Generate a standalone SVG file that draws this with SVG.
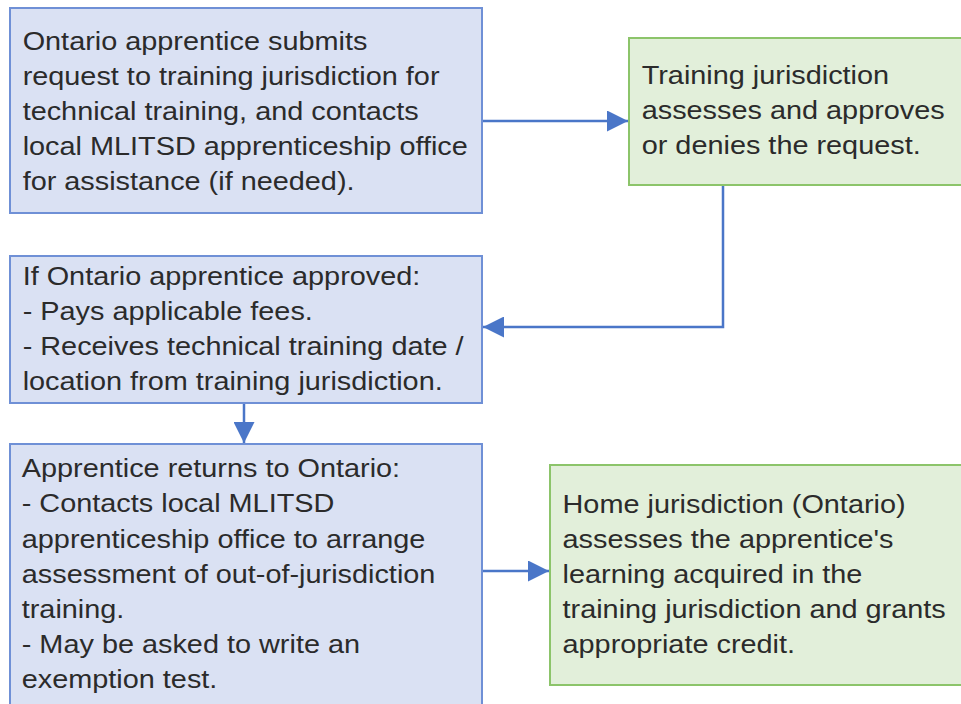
<svg xmlns="http://www.w3.org/2000/svg" width="961" height="704" viewBox="0 0 961 704">
<style>
.blue{fill:#dae1f3;stroke:#6f90d6;stroke-width:2}
.green{fill:#e2efda;stroke:#8cc46a;stroke-width:2}
.t{font-family:"Liberation Sans",Arial,sans-serif;font-size:26px;fill:#2b2b2b}
.c{fill:none;stroke:#4a76c8;stroke-width:2.5}
</style>
<defs>
<marker id="ah" viewBox="0 0 10 10" refX="10" refY="5" markerWidth="21" markerHeight="21" markerUnits="userSpaceOnUse" orient="auto">
<path d="M0,0 L10,5 L0,10 Z" fill="#4a76c8"/>
</marker>
</defs>
<rect width="961" height="704" fill="#ffffff"/>
<g id="connectors">
<path class="c" d="M482,121 H628" marker-end="url(#ah)"/>
<path class="c" d="M723,185 V327 H483" marker-end="url(#ah)"/>
<path class="c" d="M244,403 V443" marker-end="url(#ah)"/>
<path class="c" d="M482,571 H549" marker-end="url(#ah)"/>
</g>
<g id="node1">
<rect class="blue" x="10" y="8" width="472" height="205"/>
<g transform="scale(1.11 1)">
<text class="t" x="20.4" y="50">Ontario apprentice submits</text>
<text class="t" x="20.4" y="85">request to training jurisdiction for</text>
<text class="t" x="20.4" y="120">technical training, and contacts</text>
<text class="t" x="20.4" y="155">local MLITSD apprenticeship office</text>
<text class="t" x="20.4" y="190">for assistance (if needed).</text>
</g>
</g>
<g id="node2">
<rect class="green" x="629" y="38" width="340" height="147"/>
<g transform="scale(1.11 1)">
<text class="t" x="578.1" y="84">Training jurisdiction</text>
<text class="t" x="578.1" y="119">assesses and approves</text>
<text class="t" x="578.1" y="154">or denies the request.</text>
</g>
</g>
<g id="node3">
<rect class="blue" x="10" y="256" width="472" height="147"/>
<g transform="scale(1.11 1)">
<text class="t" x="20.4" y="285">If Ontario apprentice approved:</text>
<text class="t" x="20.4" y="320">- Pays applicable fees.</text>
<text class="t" x="20.4" y="355">- Receives technical training date /</text>
<text class="t" x="20.4" y="390">location from training jurisdiction.</text>
</g>
</g>
<g id="node4">
<rect class="blue" x="10" y="444" width="472" height="270"/>
<g transform="scale(1.11 1)">
<text class="t" x="19.6" y="477">Apprentice returns to Ontario:</text>
<text class="t" x="19.6" y="512">- Contacts local MLITSD</text>
<text class="t" x="19.6" y="548">apprenticeship office to arrange</text>
<text class="t" x="19.6" y="583">assessment of out-of-jurisdiction</text>
<text class="t" x="19.6" y="618">training.</text>
<text class="t" x="19.6" y="653">- May be asked to write an</text>
<text class="t" x="19.6" y="688">exemption test.</text>
</g>
</g>
<g id="node5">
<rect class="green" x="550" y="465" width="420" height="220"/>
<g transform="scale(1.11 1)">
<text class="t" x="506.8" y="513">Home jurisdiction (Ontario)</text>
<text class="t" x="506.8" y="548">assesses the apprentice's</text>
<text class="t" x="506.8" y="583">learning acquired in the</text>
<text class="t" x="506.8" y="618">training jurisdiction and grants</text>
<text class="t" x="506.8" y="653">appropriate credit.</text>
</g>
</g>
</svg>
